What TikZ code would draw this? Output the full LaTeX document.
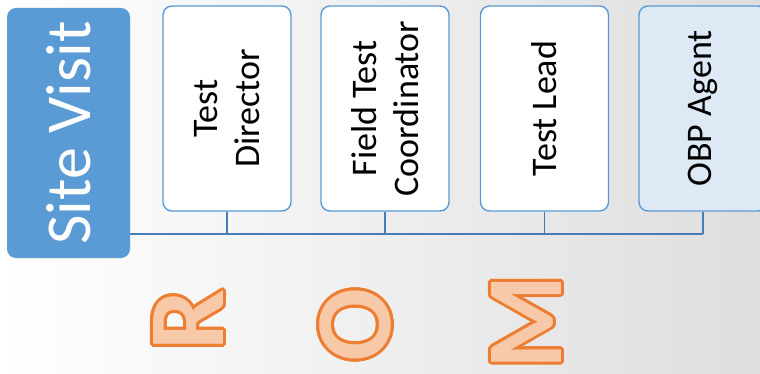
\documentclass[tikz,border=0pt]{standalone}
\usepackage{fontspec}
\setmainfont{Carlito}
\usepackage[copies]{contour}
\contourlength{3pt}
\definecolor{siteblue}{RGB}{91,155,213}
\definecolor{lineblue}{RGB}{70,125,185}
\definecolor{agentfill}{RGB}{221,233,245}
\definecolor{romline}{RGB}{237,125,49}
\definecolor{romfill}{RGB}{248,201,168}
\tikzset{role/.style={draw=siteblue, line width=1.4pt, rounded corners=9pt, fill=white, rotate=90,
    minimum width=205pt, minimum height=128pt, align=center, text=black,
    font=\fontsize{36}{42}\selectfont},
  link/.style={lineblue, line width=1.5pt},
  rom/.style={rotate=90, inner sep=0pt, font=\fontsize{108}{108}\selectfont\bfseries}}

\begin{document}
\begin{tikzpicture}[x=1pt,y=-1pt]
  \useasboundingbox (0,0) rectangle (760,374);
  \shade[left color=white, right color=black!13] (0,0) rectangle (760,374);
  \node[fill=siteblue, rounded corners=9pt, rotate=90, minimum width=250pt, minimum height=123pt,
    text=white, font=\fontsize{64}{64}\selectfont] (site) at (68.5,133) {Site Visit};
  \node[role] (director) at (227,108.5) {Test\\Director};
  \node[role] (coord) at (385,108.5) {Field Test\\Coordinator};
  \node[role] (lead) at (544.5,108.5) {Test Lead};
  \node[role, fill=agentfill] (agent) at (703,108.5) {OBP Agent};
  \coordinate (bus) at (0,234);
  \draw[link] (site.south |- bus) -- (bus -| agent.west);
  \foreach \n in {director,coord,lead,agent}
    \draw[link] (\n.west) -- (\n.west |- bus);
  \node[rom] (r) at (190,320) {\contour{romline}{\color{romfill}R}};
  \node[rom] (o) at (357,325) {\contour{romline}{\color{romfill}O}};
  \node[rom] (m) at (528,322) {\contour{romline}{\color{romfill}M}};
\end{tikzpicture}
\end{document}
